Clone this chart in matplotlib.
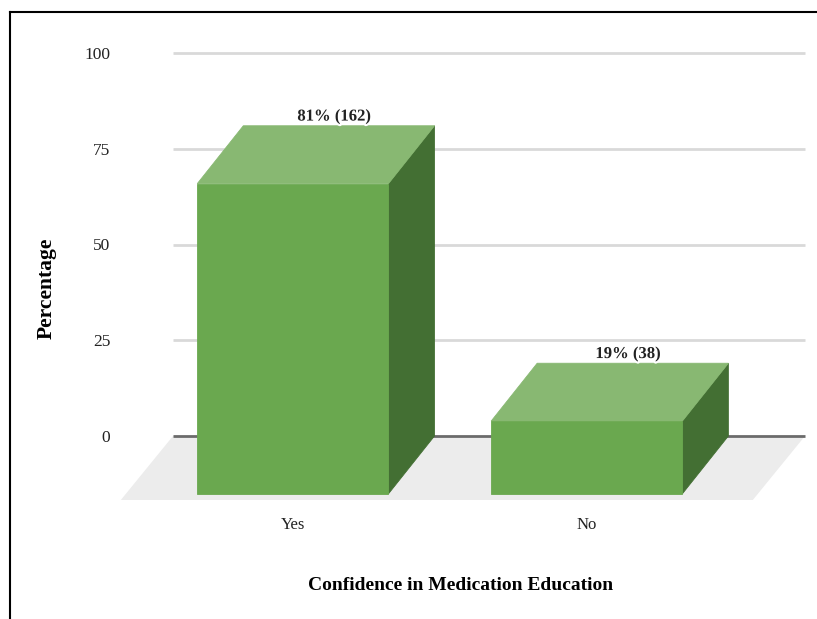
import numpy as np
import matplotlib.pyplot as plt
from matplotlib.patches import Polygon
import matplotlib.patheffects as pe

# data
categories = ['Yes', 'No']
percent = [81, 19]
counts = [162, 38]
yticks = [0, 25, 50, 75, 100]

plt.rcParams['font.family'] = ['Liberation Serif', 'DejaVu Serif']

front_col = '#6aa84f'
top_col = '#88b872'
side_col = '#436f33'
floor_col = '#ececec'
text_col = '#222222'

fig = plt.figure(figsize=(8.17, 6.19), dpi=100)
ax = fig.add_axes([173 / 817, 183 / 619, 632 / 817, 383 / 619])
ax.set_xlim(0, 2)
ax.set_ylim(0, 100)

# depth offsets (data units) for the fake 3d look
bar_dx, bar_dy = -0.1456, -15.1
floor_dx, floor_dy = -0.165, -16.7

# gridlines on the back wall
for t in yticks[1:]:
    ax.plot([0, 2], [t, t], color='#d9d9d9', lw=2, zorder=1, solid_capstyle='butt', clip_on=False)

# floor
ax.add_patch(Polygon([(0, 0), (2, 0), (2 + floor_dx, floor_dy), (floor_dx, floor_dy)],
                     closed=True, facecolor=floor_col, edgecolor='none', zorder=1, clip_on=False))
ax.plot([0, 2], [0, 0], color='#6b6b6b', lw=2, zorder=2, solid_capstyle='butt', clip_on=False)

xpos = 0.525 + 0.93 * np.arange(len(categories))
width = 0.605
for xc, h, n, cat in zip(xpos, percent, counts, categories):
    x0, x1 = xc - width / 2, xc + width / 2
    front = [(x0 + bar_dx, bar_dy), (x1 + bar_dx, bar_dy), (x1 + bar_dx, h + bar_dy), (x0 + bar_dx, h + bar_dy)]
    top = [(x0 + bar_dx, h + bar_dy), (x1 + bar_dx, h + bar_dy), (x1, h), (x0, h)]
    side = [(x1 + bar_dx, bar_dy), (x1, 0), (x1, h), (x1 + bar_dx, h + bar_dy)]
    for verts, c in [(side, side_col), (top, top_col), (front, front_col)]:
        ax.add_patch(Polygon(verts, closed=True, facecolor=c, edgecolor=c, lw=0.6,
                             zorder=3, clip_on=False))
    ax.text(xc - 0.015, h + 2.4, f'{h}% ({n})', ha='center', va='center', fontsize=12,
            fontweight='bold', zorder=5, color=text_col,
            path_effects=[pe.withStroke(linewidth=3, foreground='white')])
    ax.text(xc + bar_dx, -23.2, cat, ha='center', va='center', fontsize=12, color=text_col)

ax.set_yticks(yticks)
ax.set_yticklabels([str(t) for t in yticks], fontsize=12.5, color=text_col)
ax.tick_params(axis='y', length=0, pad=45)
ax.set_xticks([])
for s in ax.spines.values():
    s.set_visible(False)
ax.patch.set_visible(False)

fig.text(47 / 817, 1 - 288 / 619, 'Percentage', rotation=90, ha='center', va='center',
         fontsize=15.5, fontweight='bold', color='black')
fig.text(461 / 817, 1 - 585 / 619, 'Confidence in Medication Education', ha='center', va='center',
         fontsize=14, fontweight='bold', color='black')

# frame lines at top and left
fig.add_artist(plt.Line2D([10 / 817, 1], [1 - 12 / 619, 1 - 12 / 619], color='black', lw=1.5))
fig.add_artist(plt.Line2D([10 / 817, 10 / 817], [0, 1 - 12 / 619], color='black', lw=1.5))

fig.savefig('out.png', dpi=100)
